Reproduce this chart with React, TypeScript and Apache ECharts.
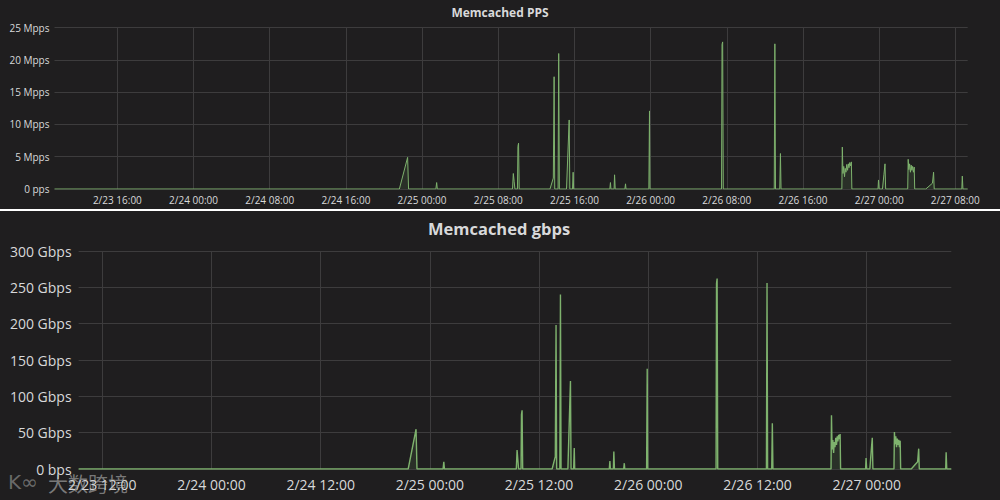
import React, { useEffect, useRef } from "react";
import * as echarts from "echarts";

// Sample times (February), pps in Mpps, bandwidth in Gbps
const times: string[] = [
  "2/23 09:24", "2/24 21:37", "2/24 22:29", "2/24 22:35",
  "2/25 01:27", "2/25 01:32", "2/25 01:36",
  "2/25 09:30", "2/25 09:35", "2/25 09:40", "2/25 09:45",
  "2/25 10:01", "2/25 10:04", "2/25 10:08", "2/25 10:12",
  "2/25 13:26", "2/25 13:47", "2/25 13:52", "2/25 13:56",
  "2/25 14:17", "2/25 14:21", "2/25 14:25",
  "2/25 15:10", "2/25 15:27", "2/25 15:31",
  "2/25 15:48", "2/25 15:52", "2/25 15:55",
  "2/25 19:43", "2/25 19:47", "2/25 19:50",
  "2/25 20:10", "2/25 20:13", "2/25 20:17",
  "2/25 21:18", "2/25 21:22", "2/25 21:25",
  "2/25 23:49", "2/25 23:53", "2/25 23:56",
  "2/26 07:27", "2/26 07:30", "2/26 07:34", "2/26 07:38",
  "2/26 12:59", "2/26 13:03", "2/26 13:07",
  "2/26 13:34", "2/26 13:38", "2/26 13:42",
  "2/26 20:05", "2/26 20:08", "2/26 20:12", "2/26 20:17", "2/26 20:22", "2/26 20:26",
  "2/26 20:31", "2/26 20:36", "2/26 20:41", "2/26 20:46", "2/26 20:50", "2/26 20:55",
  "2/26 21:00", "2/26 21:05", "2/26 21:08",
  "2/26 23:53", "2/26 23:56", "2/27 00:00",
  "2/27 00:21", "2/27 00:30", "2/27 00:37", "2/27 00:41",
  "2/27 03:00", "2/27 03:03", "2/27 03:07", "2/27 03:12", "2/27 03:17", "2/27 03:22",
  "2/27 03:26", "2/27 03:31", "2/27 03:36", "2/27 03:41", "2/27 03:44",
  "2/27 04:54", "2/27 05:36", "2/27 05:43", "2/27 05:47",
  "2/27 08:41", "2/27 08:44", "2/27 08:48",
  "2/27 09:18",
];

const ppsValues: number[] = [
  0, 0, 4.9, 0,
  0, 1.0, 0,
  0, 2.4, 1.2, 0,
  0, 6.6, 7.1, 0,
  0, 1.7, 17.4, 0,
  0, 21.0, 0,
  0, 10.7, 0,
  0, 2.6, 0,
  0, 1.0, 0,
  0, 2.2, 0,
  0, 0.8, 0,
  0, 12.1, 0,
  0, 22.4, 22.8, 0,
  0, 22.5, 0,
  0, 5.5, 0,
  0, 6.5, 2.4, 3.5, 1.9, 3.2,
  2.6, 3.8, 2.9, 3.9, 3.3, 4.1,
  3.6, 4.2, 0,
  0, 1.4, 0,
  0, 2.2, 3.9, 0,
  0, 4.6, 3.0, 3.9, 2.6, 3.7,
  2.9, 3.5, 2.6, 3.4, 0,
  0, 0.9, 2.6, 0,
  0, 2.0, 0,
  0,
];

const gbpsValues: number[] = [
  0, 0, 54.7, 0,
  0, 10, 0,
  0, 26, 13, 0,
  0, 75, 80.8, 0,
  0, 17, 198, 0,
  0, 240, 0,
  0, 121, 0,
  0, 29, 0,
  0, 11, 0,
  0, 24, 0,
  0, 8, 0,
  0, 138, 0,
  0, 255, 262, 0,
  0, 256, 0,
  0, 63, 0,
  0, 74, 27, 40, 22, 37,
  30, 43, 33, 45, 38, 47,
  41, 48, 0,
  0, 15, 0,
  0, 25, 43, 0,
  0, 51, 34, 45, 30, 42,
  33, 40, 30, 39, 0,
  0, 10, 28, 0,
  0, 23, 0,
  0,
];

const ppsTicks: string[] = [
  "2/23 16:00", "2/24 00:00", "2/24 08:00", "2/24 16:00", "2/25 00:00", "2/25 08:00",
  "2/25 16:00", "2/26 00:00", "2/26 08:00", "2/26 16:00", "2/27 00:00", "2/27 08:00",
];
const gbpsTicks: string[] = [
  "2/23 12:00", "2/24 00:00", "2/24 12:00", "2/25 00:00",
  "2/25 12:00", "2/26 00:00", "2/26 12:00", "2/27 00:00",
];

// hours since 2/23 00:00
function toHours(s: string): number {
  const [date, time] = s.split(" ");
  const [, d] = date.split("/").map(Number);
  const [h, m] = time.split(":").map(Number);
  return (d - 23) * 24 + h + m / 60;
}
function fmtHours(v: number): string {
  const total = Math.round(v * 60);
  const day = 23 + Math.floor(total / 1440);
  const rem = total % 1440;
  const h = Math.floor(rem / 60);
  const m = rem % 60;
  return `2/${day} ${String(h).padStart(2, "0")}:${String(m).padStart(2, "0")}`;
}

const TEXT = "#d8d9da";
const GRIDC = "#3d3c3d";
const GREEN = "#7eb26d";
const FONT = "'Open Sans', 'Noto Sans', sans-serif";

export default function App() {
  const ref = useRef<HTMLDivElement>(null);
  useEffect(() => {
    if (!ref.current) return;
    const chart = echarts.init(ref.current, undefined, { renderer: "svg" });
    const xs = times.map(toHours);
    const ppsData = xs.map((x, i) => [x, ppsValues[i]]);
    const gbpsData = xs.map((x, i) => [x, gbpsValues[i]]);
    const minX = 9.4;
    const maxX = 105.3;

    const mkX = (gridIndex: number, ticks: string[], fontSize: number, margin: number) => ({
      type: "value",
      gridIndex,
      min: minX,
      max: maxX,
      axisLine: { show: false },
      axisTick: { show: false, customValues: ticks.map(toHours) },
      axisLabel: {
        customValues: ticks.map(toHours),
        formatter: (v: number) => fmtHours(v),
        color: TEXT,
        fontSize,
        fontFamily: FONT,
        margin,
      },
      splitLine: { show: true, lineStyle: { color: GRIDC, width: 1 } },
    });

    const option: any = {
      animation: false,
      backgroundColor: "#1f1e1f",
      textStyle: { fontFamily: FONT },
      grid: [
        { left: 54.5, right: 32.3, top: 27.7, bottom: 311 },
        { left: 78.6, right: 48.7, top: 251, bottom: 31 },
      ],
      xAxis: [mkX(0, ppsTicks, 10, 6), mkX(1, gbpsTicks, 14, 8)],
      yAxis: [
        {
          type: "value",
          gridIndex: 0,
          min: 0,
          max: 25,
          interval: 5,
          axisLine: { show: false },
          axisTick: { show: false },
          axisLabel: {
            color: TEXT,
            fontSize: 10,
            fontFamily: FONT,
            margin: 5,
            formatter: (v: number) => (v === 0 ? "0 pps" : `${v} Mpps`),
          },
          splitLine: { lineStyle: { color: GRIDC, width: 1 } },
        },
        {
          type: "value",
          gridIndex: 1,
          min: 0,
          max: 300,
          interval: 50,
          axisLine: { show: false },
          axisTick: { show: false },
          axisLabel: {
            color: TEXT,
            fontSize: 14,
            fontFamily: FONT,
            margin: 7,
            formatter: (v: number) => (v === 0 ? "0 bps" : `${v} Gbps`),
          },
          splitLine: { lineStyle: { color: GRIDC, width: 1 } },
        },
      ],
      series: [
        {
          type: "line",
          xAxisIndex: 0,
          yAxisIndex: 0,
          data: ppsData,
          showSymbol: false,
          lineStyle: { color: GREEN, width: 1 },
          areaStyle: { color: GREEN, opacity: 0.12 },
        },
        {
          type: "line",
          xAxisIndex: 1,
          yAxisIndex: 1,
          data: gbpsData,
          showSymbol: false,
          lineStyle: { color: GREEN, width: 1.4 },
          areaStyle: { color: GREEN, opacity: 0.12 },
        },
      ],
      graphic: [
        {
          type: "text",
          x: 500,
          y: 12,
          style: {
            text: "Memcached PPS",
            fill: TEXT,
            font: `bold 12px ${FONT}`,
            textAlign: "center",
            textVerticalAlign: "middle",
          },
        },
        {
          type: "text",
          x: 499,
          y: 228,
          style: {
            text: "Memcached gbps",
            fill: TEXT,
            font: `bold 16.5px ${FONT}`,
            textAlign: "center",
            textVerticalAlign: "middle",
          },
        },
        {
          type: "rect",
          shape: { x: 0, y: 209, width: 1000, height: 2 },
          style: { fill: "#ffffff" },
        },
        {
          type: "text",
          x: 48,
          y: 483,
          z: 100,
          style: {
            text: "大数跨境",
            fill: "rgba(200,200,200,0.55)",
            font: `20px 'Noto Sans CJK SC', sans-serif`,
            textVerticalAlign: "middle",
          },
        },
        {
          type: "text",
          x: 8,
          y: 482,
          z: 100,
          style: {
            text: "K∞",
            fill: "rgba(200,200,200,0.45)",
            font: `20px 'DejaVu Sans', sans-serif`,
            textVerticalAlign: "middle",
          },
        },
      ],
    };
    chart.setOption(option);
    return () => chart.dispose();
  }, []);
  return (
    <div
      ref={ref}
      style={{ position: "absolute", left: 0, top: 0, width: 1000, height: 500 }}
    />
  );
}
